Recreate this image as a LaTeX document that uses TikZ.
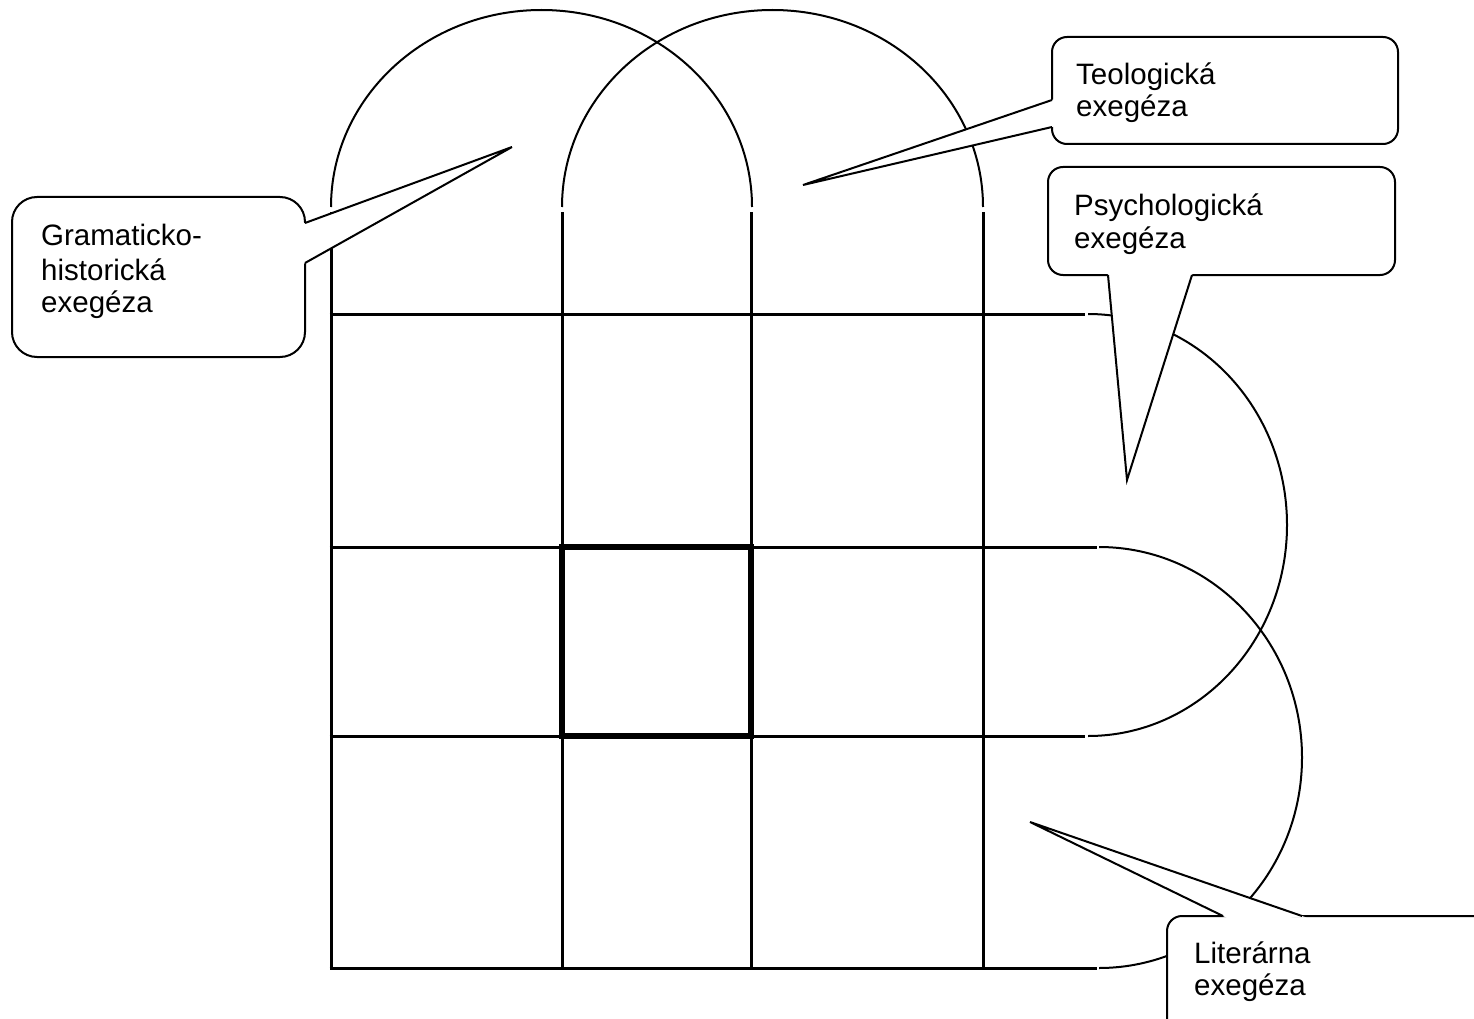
\documentclass[tikz,border=0pt]{standalone}
\usepackage{fontspec}
\setmainfont{Liberation Sans}
\usetikzlibrary{calc}
\begin{document}
\begin{tikzpicture}[x=1pt,y=-1pt,
  gridline/.style={line width=3pt},
  arcline/.style={line width=2pt},
  boldline/.style={line width=6pt},
  callout/.style={draw, line width=2pt, fill=white, rounded corners=15pt},
  ptr/.style={line width=2pt, line join=miter},
  lbl/.style={anchor=base west, inner sep=0pt, font=\fontsize{29.5}{35}\selectfont}]
\useasboundingbox (0,0) rectangle (1474,1019);
\clip (0,0) rectangle (1474,1019);

% grid
\foreach \x in {331,562,751,983} \draw[gridline] (\x,212) -- (\x,969.5);
\draw[gridline] (329.5,314) -- (1085,314);
\draw[gridline] (329.5,547) -- (1097,547);
\draw[gridline] (329.5,736) -- (1085,736);
\draw[gridline] (329.5,968) -- (1097,968);

% arches on top
\draw[arcline] (331,207) arc[start angle=180, end angle=360, x radius=210.5, y radius=197];
\draw[arcline] (562,207) arc[start angle=180, end angle=360, x radius=210.5, y radius=197];

% arcs on the right
\draw[arcline] (1088,314) arc[start angle=-90, end angle=90, x radius=199, y radius=211];
\draw[arcline] (1099,547) arc[start angle=-90, end angle=90, x radius=203, y radius=210.5];

% bold square
\draw[boldline] (562,547) rectangle (751,736);

% callout: Gramaticko-historicka
\draw[callout, rounded corners=25pt] (12,197) rectangle (305,357);
\coordinate (gb1) at (305,223); \coordinate (gb2) at (305,263); \coordinate (gt) at (512,147);
\fill[white] ($(gb1)!-5pt!(gt)$) -- (gt) -- ($(gb2)!-5pt!(gt)$) -- cycle;
\draw[ptr] (gb1) -- (gt) -- (gb2);
\node[lbl] (g1) at (41,245) {Gramaticko-};
\node[lbl] (g2) at (41,280) {historická};
\node[lbl] (g3) at (41,312) {exegéza};

% callout: Teologicka
\draw[callout] (1052,37) rectangle (1398,144);
\coordinate (tb1) at (1052,100); \coordinate (tb2) at (1052,127); \coordinate (tt) at (803,185);
\fill[white] ($(tb1)!-5pt!(tt)$) -- (tt) -- ($(tb2)!-5pt!(tt)$) -- cycle;
\draw[ptr] (tb1) -- (tt) -- (tb2);
\node[lbl] (t1) at (1076,85) {Teologická};
\node[lbl] (t2) at (1076,117) {exegéza};

% callout: Psychologicka
\draw[callout] (1048,167) rectangle (1395,275);
\coordinate (pb1) at (1108,275); \coordinate (pb2) at (1192,275); \coordinate (pt) at (1127,480);
\fill[white] ($(pb1)!-5pt!(pt)$) -- (pt) -- ($(pb2)!-5pt!(pt)$) -- cycle;
\draw[ptr] (pb1) -- (pt) -- (pb2);
\node[lbl] (p1) at (1074,215) {Psychologická};
\node[lbl] (p2) at (1074,248) {exegéza};

% callout: Literarna
\draw[callout] (1167,916) rectangle (1520,1060);
\coordinate (lb1) at (1223,916); \coordinate (lb2) at (1302,916); \coordinate (lt) at (1030,822);
\fill[white] ($(lb1)!-5pt!(lt)$) -- (lt) -- ($(lb2)!-5pt!(lt)$) -- cycle;
\draw[ptr] (lb1) -- (lt) -- (lb2);
\node[lbl] (l1) at (1194,963) {Literárna};
\node[lbl] (l2) at (1194,995) {exegéza};
\end{tikzpicture}
\end{document}
